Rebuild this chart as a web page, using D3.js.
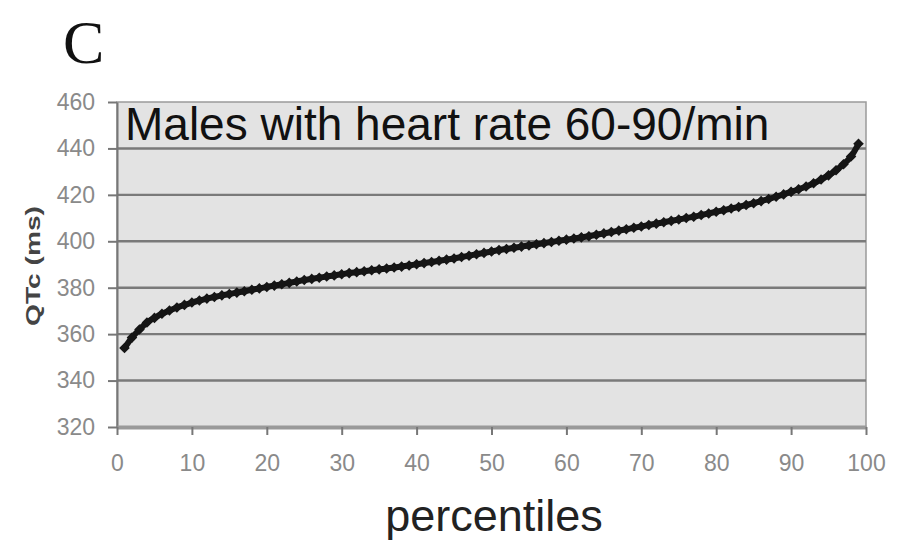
<!DOCTYPE html>
<html>
<head>
<meta charset="utf-8">
<script src="https://cdn.jsdelivr.net/npm/d3@7"></script>
<style>
  html, body { margin: 0; padding: 0; background: #ffffff; }
  svg { display: block; }
</style>
</head>
<body>
<svg id="chart" width="899" height="543"></svg>
<script>
// QTc percentiles, males with heart rate 60-90/min
const percentiles = d3.range(1, 100);
const qtcValues = [
  354.0, 358.5, 362.0, 365.0, 367.0, 368.8, 370.2, 371.5, 372.6, 373.6,
  374.5, 375.3, 376.0, 376.7, 377.3, 377.9, 378.5, 379.1, 379.7, 380.3,
  380.9, 381.5, 382.1, 382.7, 383.3, 383.8, 384.3, 384.8, 385.3, 385.8,
  386.3, 386.7, 387.1, 387.5, 387.9, 388.3, 388.7, 389.1, 389.6, 390.1,
  390.6, 391.1, 391.6, 392.1, 392.6, 393.2, 393.8, 394.4, 395.0, 395.6,
  396.2, 396.7, 397.2, 397.7, 398.2, 398.7, 399.2, 399.7, 400.2, 400.7,
  401.2, 401.7, 402.2, 402.8, 403.4, 404.0, 404.6, 405.2, 405.8, 406.4,
  407.0, 407.6, 408.2, 408.8, 409.4, 410.0, 410.6, 411.3, 412.0, 412.7,
  413.4, 414.1, 414.8, 415.6, 416.4, 417.3, 418.2, 419.2, 420.2, 421.3,
  422.4, 423.6, 425.0, 426.6, 428.4, 430.6, 433.2, 436.5, 442.0
];
const xTicks = [0, 10, 20, 30, 40, 50, 60, 70, 80, 90, 100];
const yTicks = [320, 340, 360, 380, 400, 420, 440, 460];

const svg = d3.select("#chart");

const x = d3.scaleLinear().domain([0, 100]).range([117, 866]);
const y = d3.scaleLinear().domain([320, 460]).range([427, 102]);

// panel letter
svg.append("text")
  .attr("x", 63).attr("y", 63)
  .attr("font-family", "Liberation Serif, Times New Roman, serif")
  .attr("font-size", 62)
  .attr("fill", "#111")
  .text("C");

// plot area
svg.append("rect")
  .attr("x", x(0)).attr("y", y(460))
  .attr("width", x(100) - x(0)).attr("height", y(320) - y(460))
  .attr("fill", "#e3e3e3")
  .attr("stroke", "#9a9a9a")
  .attr("stroke-width", 1.5);

// horizontal gridlines
svg.append("g")
  .selectAll("line")
  .data(yTicks.filter(v => v > 320 && v < 460))
  .join("line")
  .attr("x1", x(0)).attr("x2", x(100))
  .attr("y1", d => y(d)).attr("y2", d => y(d))
  .attr("stroke", "#7a7a7a")
  .attr("stroke-width", 2.4);

// y axis
const yAxis = svg.append("g")
  .attr("transform", `translate(${x(0)},0)`)
  .call(d3.axisLeft(y).tickValues(yTicks).tickSize(9).tickPadding(13).tickSizeOuter(0));
yAxis.select(".domain").attr("stroke", "#777").attr("stroke-width", 2);
yAxis.selectAll(".tick line").attr("stroke", "#777").attr("stroke-width", 2);
yAxis.selectAll(".tick text")
  .attr("font-family", "Liberation Sans Narrow, Arial Narrow, Liberation Sans, sans-serif")
  .attr("font-size", 23)
  .attr("fill", "#8a8a8a");

// x axis
const xAxis = svg.append("g")
  .attr("transform", `translate(0,${y(320)})`)
  .call(d3.axisBottom(x).tickValues(xTicks).tickSize(8).tickPadding(20).tickSizeOuter(0));
xAxis.select(".domain").attr("stroke", "#9a9a9a").attr("stroke-width", 4);
xAxis.selectAll(".tick line").attr("stroke", "#777").attr("stroke-width", 2);
xAxis.selectAll(".tick text")
  .attr("font-family", "Liberation Sans Narrow, Arial Narrow, Liberation Sans, sans-serif")
  .attr("font-size", 23)
  .attr("fill", "#8a8a8a");

// series: connecting line plus diamond markers, merging into a band
const points = percentiles.map((p, i) => ({ p, v: qtcValues[i] }));
const line = d3.line().x(d => x(d.p)).y(d => y(d.v)).curve(d3.curveMonotoneX);
svg.append("path")
  .datum(points)
  .attr("d", line)
  .attr("fill", "none")
  .attr("stroke", "#151515")
  .attr("stroke-width", 6)
  .attr("stroke-linejoin", "round");

const diamond = d3.symbol().type(d3.symbolSquare).size(56);
svg.append("g")
  .selectAll("path")
  .data(points)
  .join("path")
  .attr("d", diamond)
  .attr("transform", d => `translate(${x(d.p)},${y(d.v)}) rotate(45)`)
  .attr("fill", "#151515");

// in-plot title
svg.append("text")
  .attr("x", 125).attr("y", 140)
  .attr("font-family", "Liberation Sans, Arial, sans-serif")
  .attr("font-size", 46)
  .attr("fill", "#111")
  .text("Males with heart rate 60-90/min");

// axis titles
svg.append("text")
  .attr("x", 494).attr("y", 531)
  .attr("text-anchor", "middle")
  .attr("font-family", "Liberation Sans, Arial, sans-serif")
  .attr("font-size", 45)
  .attr("fill", "#222")
  .text("percentiles");

svg.append("text")
  .attr("transform", "translate(40,266) rotate(-90)")
  .attr("text-anchor", "middle")
  .attr("font-family", "Liberation Sans, Arial, sans-serif")
  .attr("font-weight", "bold")
  .attr("font-size", 21)
  .attr("textLength", 120)
  .attr("lengthAdjust", "spacingAndGlyphs")
  .attr("fill", "#444")
  .text("QTc (ms)");
</script>
</body>
</html>
